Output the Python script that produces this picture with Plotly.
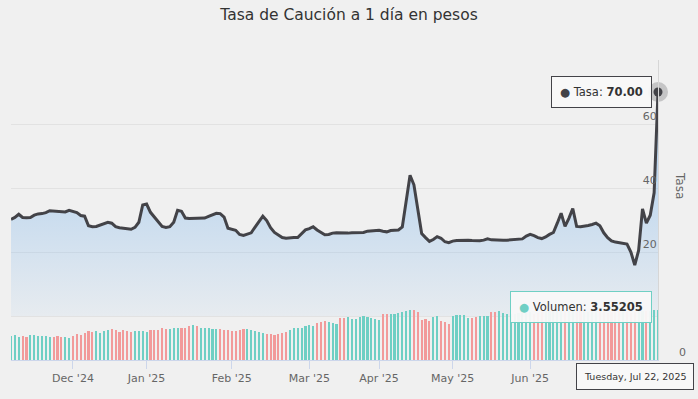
import plotly.graph_objects as go
import pandas as pd

# ---------------- data ----------------
title_text = "Tasa de Caución a 1 día en pesos"
start_date = "2024-11-07"
end_date = "2025-07-22"
market_holidays = [
    "2024-11-18", "2024-12-24", "2024-12-25", "2024-12-31", "2025-01-01",
    "2025-03-03", "2025-03-04", "2025-03-24", "2025-04-02", "2025-04-17",
    "2025-04-18", "2025-05-01", "2025-05-02", "2025-06-16", "2025-06-20",
    "2025-07-09",
]

tasa = [
    30.2, 30.8, 31.8, 30.8, 30.7, 30.8, 31.5, 31.9, 32.0, 32.3,
    32.9, 32.8, 32.6, 32.5, 32.5, 33.0, 32.6, 32.3, 31.4, 31.2,
    28.2, 27.9, 28.0, 28.4, 29.0, 29.3, 29.0, 27.9, 27.6, 27.5,
    27.3, 27.1, 27.7, 29.3, 34.7, 35.0, 32.4, 31.0, 29.6, 28.0,
    27.7, 27.9, 29.3, 33.0, 32.7, 30.6, 30.5, 30.5, 30.4, 30.5,
    30.6, 31.1, 31.6, 32.1, 32.0, 30.9, 27.4, 27.0, 26.8, 25.5,
    25.2, 25.6, 26.0, 27.8, 29.5, 31.2, 29.8, 27.6, 26.1, 25.3,
    24.5, 24.3, 24.5, 24.5, 24.5, 25.6, 26.9, 27.3, 27.9, 26.9,
    26.2, 25.4, 25.5, 25.9, 26.0, 25.9, 25.8, 25.9, 26.0, 26.0,
    26.0, 26.1, 26.5, 26.6, 26.7, 26.8, 26.5, 26.3, 26.7, 26.9,
    26.9, 27.8, 36.0, 44.0, 41.0, 33.0, 25.8, 24.5, 23.3, 23.9,
    24.8, 24.3, 23.2, 22.9, 23.4, 23.6, 23.7, 23.7, 23.7, 23.6,
    23.5, 23.5, 23.7, 24.1, 23.8, 23.7, 23.7, 23.7, 23.7, 23.8,
    23.8, 23.9, 24.1, 25.0, 25.5, 25.1, 24.5, 24.2, 24.7, 25.5,
    26.1, 29.0, 32.1, 28.0, 30.5, 33.6, 28.0, 27.9, 28.0, 28.3,
    28.6, 29.0, 28.2, 26.0, 24.5, 23.5, 23.1, 22.9, 22.9, 22.5,
    20.0, 15.9, 20.5, 33.5, 29.0, 31.5, 38.5, 70.0,
]

volumen = [
    1.70, 1.75, 1.60, 1.70, 1.65, 1.75, 1.80, 1.70, 1.70, 1.70,
    1.65, 1.65, 1.70, 1.60, 1.65, 1.55, 1.70, 1.85, 1.80, 1.90,
    2.05, 2.00, 2.05, 1.95, 2.05, 2.15, 2.20, 2.10, 2.00, 2.10,
    2.05, 2.00, 2.05, 2.05, 2.05, 2.00, 2.15, 2.10, 2.15, 2.25,
    2.20, 2.20, 2.25, 2.25, 2.25, 2.30, 2.40, 2.45, 2.40, 2.25,
    2.25, 2.25, 2.20, 2.20, 2.20, 2.15, 2.10, 2.05, 2.05, 2.10,
    2.20, 2.20, 2.15, 2.05, 2.00, 1.90, 1.85, 1.85, 1.80, 1.82,
    1.95, 1.97, 2.10, 2.25, 2.25, 2.30, 2.40, 2.45, 2.44, 2.60,
    2.70, 2.75, 2.72, 2.60, 2.55, 3.00, 3.00, 3.05, 2.90, 2.90,
    3.05, 3.10, 3.08, 2.95, 2.90, 2.85, 3.25, 3.27, 3.30, 3.30,
    3.35, 3.40, 3.50, 3.55, 3.55, 3.40, 2.85, 2.90, 2.80, 3.05,
    3.10, 2.75, 2.70, 2.55, 3.15, 3.20, 3.20, 3.20, 3.00, 3.00,
    3.05, 3.12, 3.15, 3.10, 3.40, 3.43, 3.45, 3.35, 3.30, 3.30,
    3.30, 3.35, 3.45, 3.40, 3.40, 3.30, 3.35, 3.40, 3.45, 3.50,
    3.45, 3.50, 3.55, 3.50, 3.45, 3.50, 3.55, 3.50, 3.45, 3.40,
    3.45, 3.50, 3.45, 3.40, 3.35, 3.40, 3.45, 3.50, 3.45, 3.40,
    3.35, 3.40, 3.45, 3.50, 3.45, 3.50, 3.55, 3.55205,
]

# ---------------- styling ----------------
BG = "#f0f0f0"
LINE = "#434348"
TEAL = "#6fcfc4"
PINK = "#f29a9a"
FONT = "DejaVu Sans"

dates = pd.bdate_range(start_date, end_date)
dates = dates[~dates.isin(pd.to_datetime(market_holidays))]
idx = list(range(len(dates)))

# month ticks placed at first trading day of each month (ordinal axis);
# the current (last) month label sits under the hover tooltip, so it is omitted
tickvals, ticktext = [], []
for i in range(1, len(dates)):
    if dates[i].month != dates[i - 1].month and dates[i].month != dates[-1].month:
        tickvals.append(i)
        ticktext.append(dates[i].strftime("%b '%y"))

bar_colors = [TEAL] + [TEAL if tasa[i] >= tasa[i - 1] else PINK for i in range(1, len(tasa))]

fig = go.Figure()
fig.add_trace(go.Scatter(
    x=idx, y=tasa, mode="lines",
    line=dict(color=LINE, width=3),
    fill="tozeroy",
    fillgradient=dict(type="vertical", start=0, stop=80,
                      colorscale=[[0, "rgba(124,181,236,0.08)"], [1, "rgba(124,181,236,0.7)"]]),
    hoverinfo="skip", showlegend=False,
))
fig.add_trace(go.Scatter(
    x=[idx[-1]], y=[tasa[-1]], mode="markers",
    marker=dict(size=20, color="rgba(67,67,72,0.25)"),
    hoverinfo="skip", showlegend=False, cliponaxis=False,
))
fig.add_trace(go.Scatter(
    x=[idx[-1]], y=[tasa[-1]], mode="markers",
    marker=dict(size=9, color=LINE),
    hoverinfo="skip", showlegend=False, cliponaxis=False,
))
fig.add_trace(go.Bar(
    x=idx, y=volumen, yaxis="y2", width=0.55,
    marker=dict(color=bar_colors, line=dict(width=0)),
    hoverinfo="skip", showlegend=False,
))

fig.update_layout(
    width=698, height=399,
    margin=dict(l=11, r=40, t=60, b=39),
    paper_bgcolor=BG, plot_bgcolor=BG,
    font=dict(family=FONT, color="#666666", size=11),
    title=dict(text=title_text, x=0.5, xanchor="center", xref="container",
               y=1 - 15 / 399, yref="container", yanchor="middle",
               font=dict(family=FONT, size=15.5, color="#333333")),
    bargap=0,
    xaxis=dict(range=[0, len(idx) - 1], tickvals=tickvals, ticktext=ticktext,
               showgrid=False, zeroline=False, showline=True, linecolor="#ccd6eb",
               ticks="outside", ticklen=8, tickcolor="#ccd6eb", automargin=False,
               tickfont=dict(size=11, color="#666666")),
    yaxis=dict(side="right", range=[-13.75, 80], tickvals=[0, 20, 40, 60, 80],
               ticktext=["", "20", "40", "60", ""], gridcolor="#e2e2e2",
               ticklabelposition="inside top", zeroline=False, automargin=False,
               showline=True, linecolor="#d6d6d6",
               tickfont=dict(size=11, color="#666666")),
    yaxis2=dict(overlaying="y", side="right", range=[0, 21.3], tickvals=[0],
                ticktext=["0"], showgrid=False, zeroline=False, showline=False,
                ticklabelposition="outside top", ticklabelstandoff=20, automargin=False,
                tickfont=dict(size=11, color="#666666")),
)

fig.add_annotation(
    x=idx[-1], y=tasa[-1], xref="x", yref="y", showarrow=False,
    xanchor="right", yanchor="middle", xshift=-6,
    text=f"<span style='color:{LINE}'>●</span> Tasa: <b>{tasa[-1]:.2f}</b>",
    bgcolor="rgba(248,248,248,0.95)", bordercolor=LINE, borderwidth=1, borderpad=8,
    font=dict(family=FONT, size=11.5, color="#333333"),
)
fig.add_annotation(
    x=idx[-1], y=volumen[-1], xref="x", yref="y2", showarrow=False,
    xanchor="right", yanchor="middle", xshift=-6, yshift=3,
    text=f"<span style='color:{TEAL}'>●</span> Volumen: <b>{volumen[-1]}</b>",
    bgcolor="rgba(248,248,248,0.95)", bordercolor=TEAL, borderwidth=1, borderpad=8,
    font=dict(family=FONT, size=11.5, color="#333333"),
)
fig.add_annotation(
    x=idx[-1], y=0, xref="x", yref="paper", showarrow=False,
    xanchor="right", yanchor="top", xshift=36, yshift=-3,
    text=dates[-1].strftime("%A, %b %d, %Y"),
    bgcolor="rgba(248,248,248,1)", bordercolor=LINE, borderwidth=1, borderpad=7,
    font=dict(family=FONT, size=9.5, color="#333333"),
)
fig.add_annotation(
    x=1.034, y=0.58, xref="paper", yref="paper", showarrow=False,
    text="Tasa", textangle=90, xanchor="center", yanchor="middle",
    font=dict(family=FONT, size=12, color="#666666"),
)

fig.write_html(
    "out.html",
    config={"displayModeBar": False},
    post_script="document.body.style.margin='0';document.body.style.background='#f0f0f0';",
)
